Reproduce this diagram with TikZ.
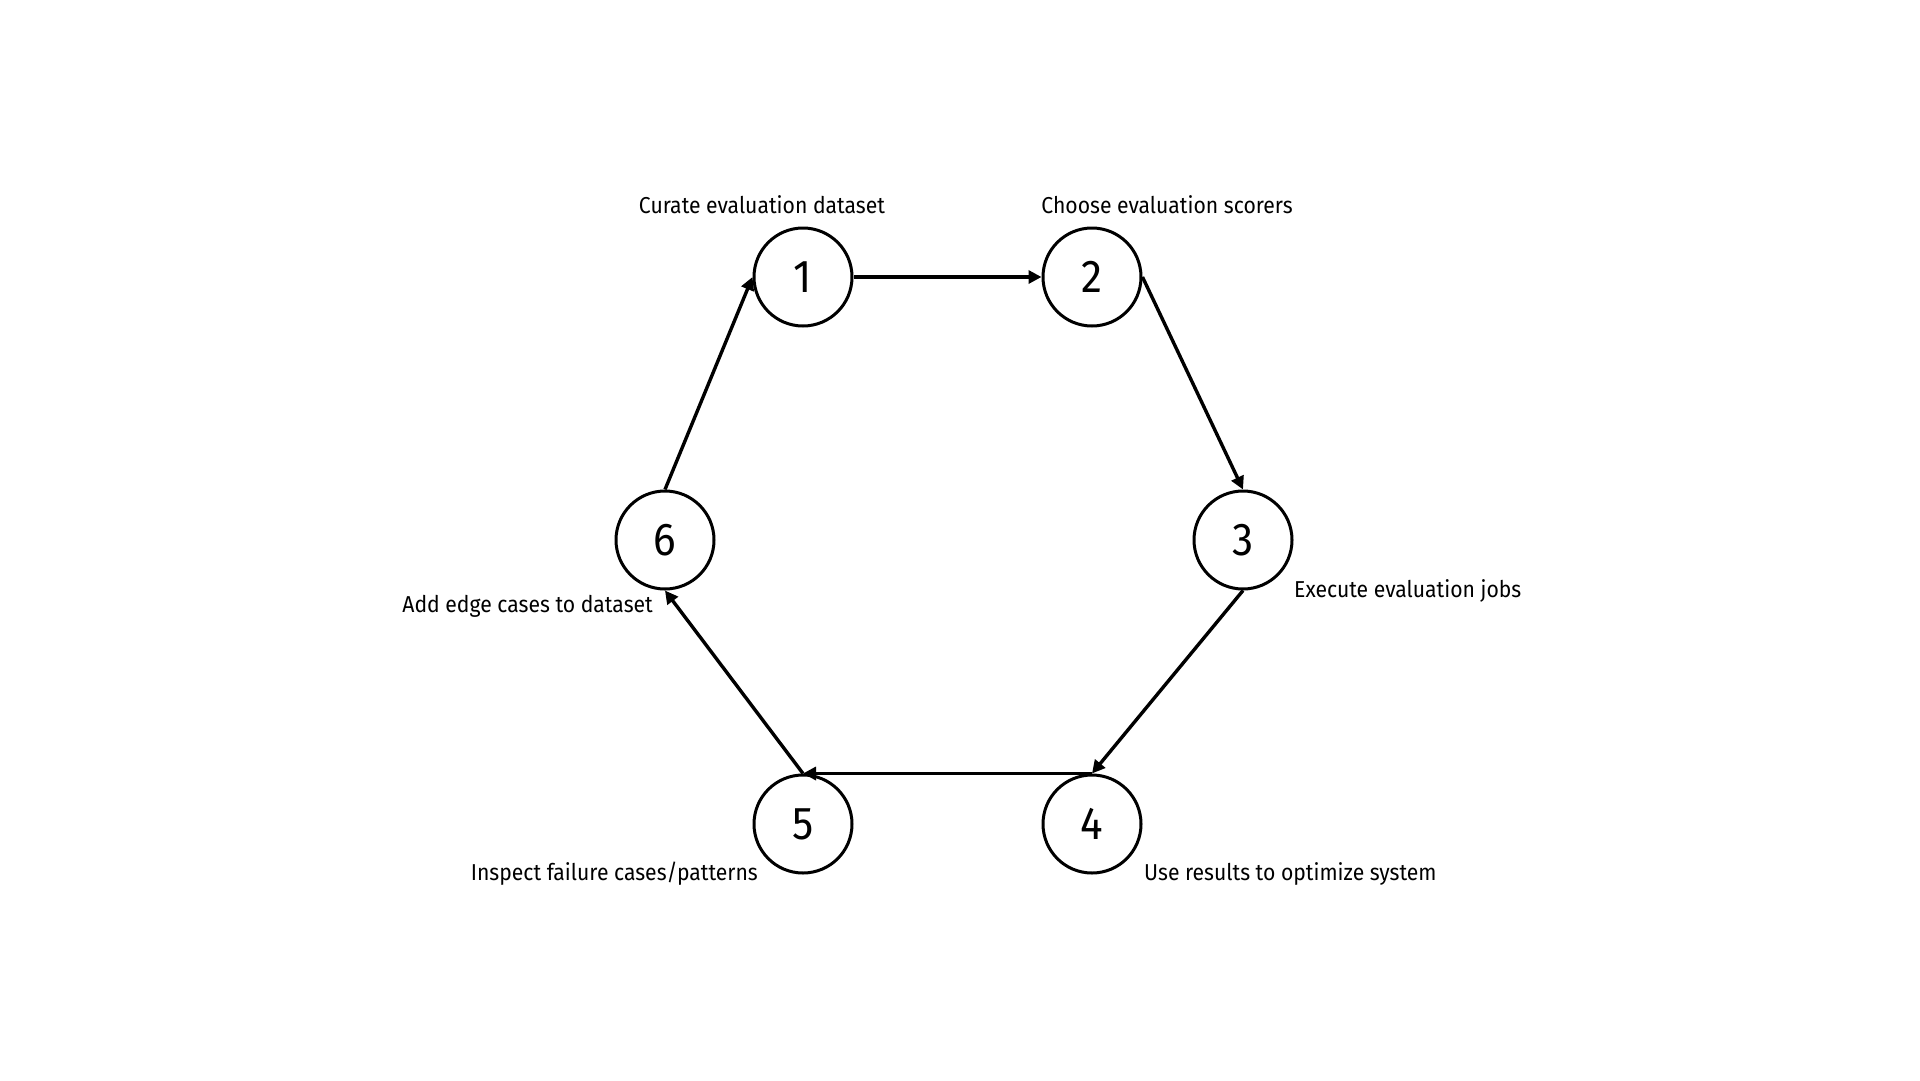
\documentclass[tikz,border=0pt]{standalone}
\usepackage{fontspec}
\setmainfont{Fira Sans}[FakeStretch=0.92]
\usetikzlibrary{arrows.meta}
\begin{document}
\begin{tikzpicture}[x=1pt,y=-1pt,
  stepnode/.style={circle,draw=black,line width=3pt,minimum size=98pt,inner sep=0pt,font=\fontsize{46}{46}\selectfont},
  lbl/.style={inner sep=0pt,font=\fontsize{23}{26}\selectfont},
  conn/.style={line width=3.4pt,-{Triangle[length=13pt,width=13pt]}}]
\useasboundingbox (0,0) rectangle (1920,1080);
\node[stepnode] (n1) at (803,277) {1};
\node[stepnode] (n2) at (1092,277) {2};
\node[stepnode] (n3) at (1243,540) {3};
\node[stepnode] (n4) at (1092,824) {4};
\node[stepnode] (n5) at (803,824) {5};
\node[stepnode] (n6) at (665,540) {6};
\node[lbl] (l1) at (762,205) {Curate evaluation dataset};
\node[lbl] (l2) at (1167,205) {Choose evaluation scorers};
\node[lbl,anchor=west] (l3) at (1294,591) {Execute evaluation jobs};
\node[lbl,anchor=west] (l4) at (1144,874) {Use results to optimize system};
\node[lbl,anchor=east] (l5) at (758,874) {Inspect failure cases/patterns};
\node[lbl,anchor=east] (l6) at (653,606) {Add edge cases to dataset};
\draw[conn] (n1.east) -- (n2.west);
\draw[conn] (n2.east) -- (n3.north);
\draw[conn] (n3.south) -- (n4.north);
\draw[conn] (n4.north) -- (n5.north);
\draw[conn] (n5.north) -- (n6.south);
\draw[conn] (n6.north) -- (n1.west);
\end{tikzpicture}
\end{document}
